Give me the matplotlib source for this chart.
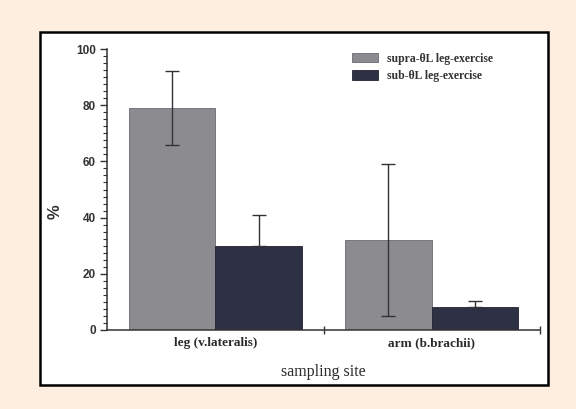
import matplotlib
matplotlib.use("Agg")
import matplotlib.pyplot as plt
import numpy as np
from matplotlib.patches import Rectangle
from matplotlib.ticker import MultipleLocator

sites = ["leg (v.lateralis)", "arm (b.brachii)"]
series = ["supra-θL leg-exercise", "sub-θL leg-exercise"]
supra = [79, 32]
supra_err = [13, 27]
sub = [30, 8.2]
sub_err = [11, 2.2]
yticks = [0, 20, 40, 60, 80, 100]

fig = plt.figure(figsize=(5.76, 4.09), dpi=100)
fig.patch.set_facecolor("#fdeee0")
panel = Rectangle((40/576, 1-385/409), 508/576, 353/409, transform=fig.transFigure,
                  facecolor="white", edgecolor="black", linewidth=1.8, zorder=-10)
fig.patches.append(panel)

ax = fig.add_axes([107/576, 1-330/409, 433/576, 281/409])
ax.set_zorder(1)
ax.patch.set_alpha(0)
x = np.arange(len(sites))
w = 0.4
ax.bar(x - w/2, supra, w, color="#8c8c90", edgecolor="#6a6a70", linewidth=0.6,
       label=series[0], zorder=2)
ax.bar(x + w/2, sub, w, color="#2e3043", edgecolor="#22232f", linewidth=0.6,
       label=series[1], zorder=2)
ax.errorbar(x - w/2, supra, yerr=supra_err, fmt="none", ecolor="#333333",
            elinewidth=1.0, capsize=5, capthick=1.0, zorder=3)
ax.errorbar(x + w/2, sub, yerr=[[0, 0], sub_err], fmt="none", ecolor="#333333",
            elinewidth=1.0, capsize=5, capthick=1.0, zorder=3)

ax.set_xlim(-0.5, 1.5)
ax.set_ylim(0, 100)
ax.set_yticks(yticks)
ax.yaxis.set_minor_locator(MultipleLocator(2.5))
ax.set_xticks([0.5, 1.5])
ax.set_xticklabels([])
ax.tick_params(axis="x", direction="inout", length=6, width=1, color="#333333")
ax.tick_params(axis="y", which="major", direction="out", length=5, width=1,
               color="#333333", labelsize=8.5, labelcolor="#333333", pad=3)
ax.tick_params(axis="y", which="minor", direction="out", length=3, width=0.8,
               color="#333333")
for lbl in ax.get_yticklabels():
    lbl.set_fontfamily("Liberation Sans")
    lbl.set_fontweight("semibold")
for s in ["top", "right"]:
    ax.spines[s].set_visible(False)
for s in ["left", "bottom"]:
    ax.spines[s].set_color("#333333")
    ax.spines[s].set_linewidth(1.1)

for xi, name in zip(x, sites):
    ax.text(xi, -2.6, name, ha="center", va="top", fontsize=9.5,
            fontfamily="Liberation Serif", fontweight="bold", color="#2a2a2a")
fig.text(323/576, 1-372/409, "sampling site", ha="center", va="center",
         fontsize=11.5, fontfamily="Liberation Serif", color="#2a2a2a")
fig.text(55/576, 1-212/409, "%", ha="center", va="center", rotation=90,
         fontsize=12, fontfamily="Liberation Sans", fontweight="bold", color="#333333")

leg = ax.legend(loc="upper left", bbox_to_anchor=(234/433, 1.025), frameon=False,
                prop={"family": "Liberation Serif", "size": 8.5, "weight": "bold"},
                handlelength=2.2, handleheight=0.9, labelspacing=0.45, handletextpad=0.8)
for t in leg.get_texts():
    t.set_color("#333333")

fig.savefig("out.png", dpi=100, facecolor=fig.get_facecolor())
